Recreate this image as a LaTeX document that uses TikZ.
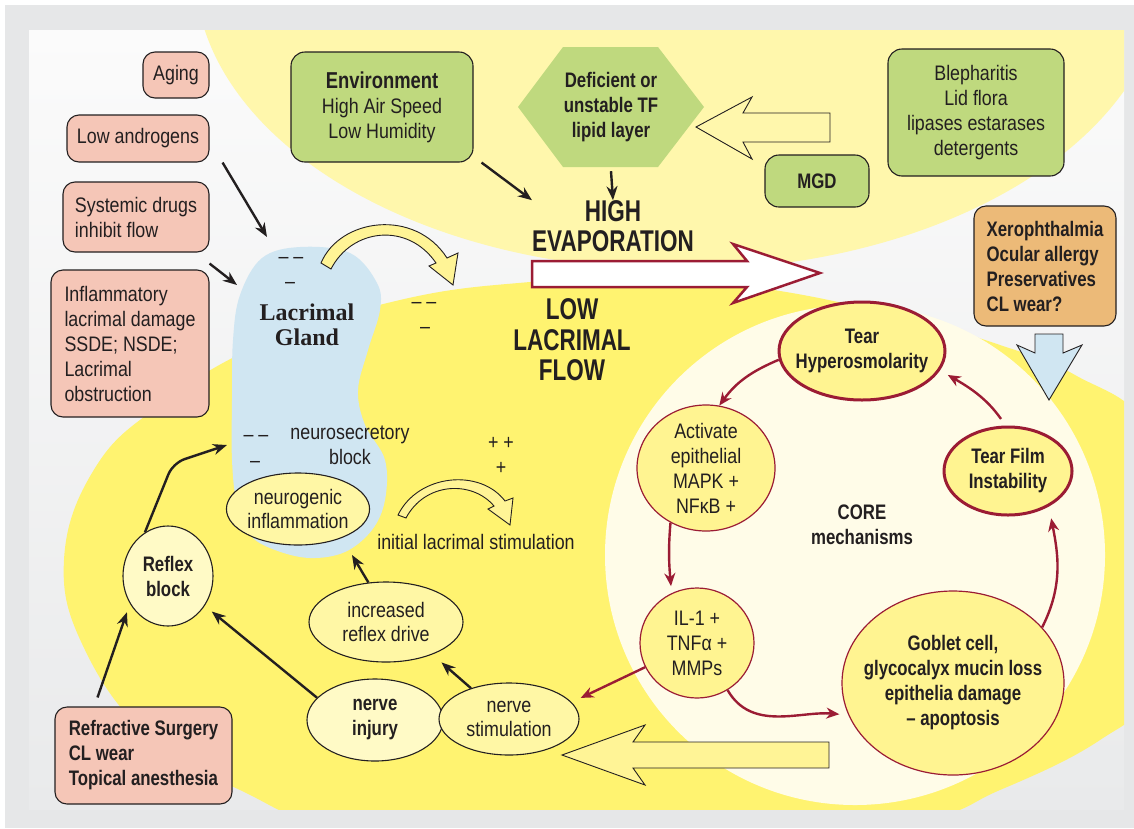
\documentclass[tikz,border=0pt]{standalone}
\usepackage{fontspec}
\setmainfont{Liberation Sans}[FakeStretch=0.85, BoldFeatures={FakeStretch=0.8}]
\newfontfamily\headfont{Liberation Sans}[FakeStretch=0.75]
\newfontfamily\glandfont{Liberation Serif}
\usepackage{tikz}
\usetikzlibrary{arrows.meta}
\usetikzlibrary{shapes.geometric}
\usetikzlibrary{calc}

\definecolor{TextDark}{RGB}{35,31,32}
\definecolor{FrameGray}{RGB}{230,231,232}
\definecolor{InnerTop}{RGB}{251,251,251}
\definecolor{InnerBottom}{RGB}{233,234,235}
\definecolor{PaleYellow}{RGB}{255,247,172}
\definecolor{BrightYellow}{RGB}{255,243,112}
\definecolor{CreamCore}{RGB}{255,252,232}
\definecolor{GlandBlue}{RGB}{208,230,242}
\definecolor{PinkBox}{RGB}{245,198,183}
\definecolor{GreenBox}{RGB}{191,217,126}
\definecolor{OrangeBox}{RGB}{236,186,120}
\definecolor{BubbleYellow}{RGB}{255,247,165}
\definecolor{BubbleLight}{RGB}{255,250,198}
\definecolor{CoreFill}{RGB}{255,244,145}
\definecolor{CoreRed}{RGB}{155,28,52}
\definecolor{HollowYellow}{RGB}{255,244,150}

\tikzstyle{lbl} = [font=\fontsize{21}{25}\selectfont, text=TextDark, align=center, inner sep=0pt]
\tikzstyle{causebox} = [draw=TextDark, line width=1.1pt, rounded corners=12pt, fill=PinkBox, text=TextDark, font=\fontsize{21}{25}\selectfont]
\tikzstyle{leftbox} = [causebox, align=left, inner xsep=12pt]
\tikzstyle{greenbox} = [draw=TextDark, line width=1.1pt, rounded corners=14pt, fill=GreenBox, text=TextDark, align=center, inner sep=0pt, font=\fontsize{21}{25}\selectfont]
\tikzstyle{bubble} = [ellipse, draw=TextDark, line width=1.1pt, fill=BubbleYellow, text=TextDark, align=center, inner sep=0pt, font=\fontsize{21}{24}\selectfont]
\tikzstyle{corebubble} = [ellipse, draw=CoreRed, line width=1.2pt, fill=CoreFill, text=TextDark, align=center, inner sep=0pt, font=\fontsize{21}{25}\selectfont]
\tikzstyle{hollow} = [draw=TextDark, line width=0.9pt, fill=HollowYellow]
\tikzstyle{arrow} = [line width=2.4pt, TextDark, -{Stealth[length=14pt,width=11pt]}]
\tikzstyle{redarrow} = [line width=2.4pt, CoreRed, -{Stealth[length=13pt,width=11pt]}]

\begin{document}
\begin{tikzpicture}[x=1pt, y=1pt]
\useasboundingbox (0,0) rectangle (1134,-828);
\fill[white] (0,0) rectangle (1134,-828);
\fill[FrameGray] (5,-5) rectangle (1134,-828);
\shade[top color=InnerTop, bottom color=InnerBottom] (29,-30) rectangle (1124,-809);
\begin{scope}
\clip (29,-30) rectangle (1124,-809);
\fill[PaleYellow] (680,30) ellipse [x radius=485, y radius=300];
\fill[BrightYellow] plot[smooth cycle, tension=0.7] coordinates {(64,-560) (95,-468) (160,-405) (260,-345) (400,-300) (530,-282) (650,-278) (780,-291) (913,-320) (1000,-345) (1075,-375) (1150,-430) (1190,-560) (1150,-690) (1100,-740) (1000,-790) (900,-825) (600,-870) (350,-832) (240,-790) (150,-738) (85,-650)};
\fill[CreamCore] (855,-555) circle [radius=250];
\end{scope}

\fill[GlandBlue] plot[smooth cycle, tension=0.6] coordinates {(300,-247) (350,-253) (377,-283) (380,-310) (368,-350) (358,-390) (365,-425) (385,-460) (385,-500) (372,-530) (345,-552) (310,-558) (275,-550) (250,-535) (237,-505) (232,-460) (232,-400) (233,-340) (240,-295) (262,-258)};
\coordinate (glandtop) at (267,-237);
\coordinate (glandleft) at (237,-285);
\coordinate (glandside) at (227,-445);
\coordinate (glandfoot) at (352,-555);

\draw[hollow] (321,-263) .. controls (340,-218) and (415,-208) .. (447,-258) -- (458,-253) -- (453,-285) -- (429,-266) -- (436,-263) .. controls (408,-222) and (352,-228) .. (331,-269) -- cycle;
\draw[hollow] (398,-515) .. controls (418,-474) and (480,-468) .. (505,-501) -- (513,-498) -- (510,-525) -- (488,-509) -- (494,-506) .. controls (472,-480) and (425,-482) .. (406,-518) -- cycle;
\draw[hollow, fill=PaleYellow] (696,-127) -- (752,-97) -- (743,-113) -- (830,-113) -- (830,-142) -- (743,-142) -- (752,-159) -- cycle;
\draw[hollow] (562,-755) -- (645,-725) -- (633,-742) -- (829,-742) -- (829,-768) -- (633,-768) -- (645,-785) -- cycle;
\draw[hollow, fill=GlandBlue] (1035,-334) -- (1063,-334) -- (1063,-353) -- (1082,-345) -- (1049,-400) -- (1017,-345) -- (1035,-353) -- cycle;
\draw[CoreRed, line width=2.5pt, fill=white] (532,-261) -- (747,-261) -- (733,-244) -- (820,-273) -- (733,-303) -- (747,-287) -- (532,-287) -- cycle;

\node[causebox, minimum width=66pt, minimum height=46pt, inner sep=0pt] (aging) at (176,-75) {Aging};
\node[causebox, minimum width=142pt, minimum height=47pt, inner sep=0pt] (andro) at (138,-138.5) {Low androgens};
\node[leftbox, minimum width=146pt, minimum height=70pt] (drugs) at (136,-217) {Systemic drugs\\inhibit flow};
\node[leftbox, minimum width=158pt, minimum height=147pt] (inflam) at (130,-343.5) {Inflammatory\\lacrimal damage\\SSDE; NSDE;\\Lacrimal\\obstruction};
\node[leftbox, minimum width=177pt, minimum height=97pt, font=\fontsize{21}{25}\selectfont\bfseries] (refract) at (143.5,-755.5) {Refractive Surgery\\CL wear\\Topical anesthesia};

\node[greenbox, minimum width=182pt, minimum height=110pt] (env) at (382,-107) {{\fontsize{23}{25}\selectfont\bfseries Environment}\\High Air Speed\\Low Humidity};
\node[greenbox, minimum width=176pt, minimum height=127pt] (bleph) at (976,-112.5) {Blepharitis\\Lid flora\\lipases estarases\\detergents};
\node[greenbox, minimum width=104pt, minimum height=52pt, font=\fontsize{21}{25}\selectfont\bfseries] (mgd) at (817,-181) {MGD};
\node[leftbox, fill=OrangeBox, minimum width=142pt, minimum height=120pt, font=\fontsize{21}{25}\selectfont\bfseries] (allergy) at (1045,-266) {Xerophthalmia\\Ocular allergy\\Preservatives\\CL wear?};

\fill[GreenBox] (518,-107) -- (563,-47) -- (658,-47) -- (704,-107) -- (658,-167) -- (563,-167) -- cycle;
\node[lbl, font=\fontsize{21}{25}\selectfont\bfseries, minimum width=186pt, minimum height=120pt] (lipid) at (611,-107) {Deficient or\\unstable TF\\lipid layer};

\node[lbl, font=\headfont\bfseries\fontsize{30}{30}\selectfont] (evap) at (613,-226) {HIGH\\EVAPORATION};
\node[lbl, font=\headfont\bfseries\fontsize{30}{30.5}\selectfont] (lowflow) at (572,-340) {LOW\\LACRIMAL\\FLOW};
\node[lbl, font=\glandfont\bfseries\fontsize{24}{25}\selectfont] (glandlbl) at (307,-325) {Lacrimal\\Gland};
\node[lbl] (neuroblock) at (350,-445) {neurosecretory\\block};
\node[lbl] (initstim) at (476,-542) {initial lacrimal stimulation};
\node[lbl, font=\fontsize{21}{25}\selectfont\bfseries] (core) at (862,-525) {CORE\\mechanisms};

\foreach \px/\py/\sign [count=\i] in {291/260/{– –}, 290/285/–, 424/305/{– –}, 425/330/–, 256/438/{– –}, 255/464/–, 501/443/{+ +}, 501/468/+}
  \node[lbl] (sign\i) at (\px,-\py) {\sign};

\node[bubble, minimum width=140pt, minimum height=72pt] (neuroinfl) at (298,-509) {neurogenic\\inflammation};
\node[bubble, fill=BubbleLight, minimum width=90pt, minimum height=100pt, font=\fontsize{21}{25}\selectfont\bfseries] (reflex) at (168,-576) {Reflex\\block};
\node[bubble, minimum width=154pt, minimum height=80pt] (drive) at (386,-622) {increased\\reflex drive};
\node[bubble, fill=BubbleLight, minimum width=136pt, minimum height=82pt, font=\fontsize{21}{25}\selectfont\bfseries] (injury) at (375,-720) {nerve\\injury};
\node[bubble, minimum width=140pt, minimum height=72pt] (stim) at (509,-719) {nerve\\stimulation};

\node[corebubble, line width=3pt, minimum width=166pt, minimum height=98pt, inner xsep=-15pt, font=\fontsize{21}{25}\selectfont\bfseries] (hyper) at (862,-351) {Tear\\Hyperosmolarity};
\node[corebubble, line width=3pt, minimum width=128pt, minimum height=88pt, font=\fontsize{21}{25}\selectfont\bfseries] (tearfilm) at (1008,-471) {Tear Film\\Instability};
\node[corebubble, minimum width=138pt, minimum height=126pt, inner ysep=-10pt] (activate) at (706,-468) {Activate\\epithelial\\MAPK +\\NFκB +};
\node[corebubble, minimum width=114pt, minimum height=110pt] (il1) at (697,-643) {IL-1 +\\TNFα +\\MMPs};
\node[corebubble, minimum width=222pt, minimum height=184pt, inner xsep=-25pt, font=\fontsize{21}{25}\selectfont\bfseries] (goblet) at (953,-683) {Goblet cell,\\glycocalyx mucin loss\\epithelia damage\\– apoptosis};

\draw[arrow] ([xshift=13pt]andro.south east) -- (glandtop);
\draw[arrow] ([yshift=-11pt]drugs.south east) -- (glandleft);
\draw[arrow] ([xshift=8pt]env.south east) -- (evap.north west);
\draw[arrow] ([yshift=-4pt]lipid.south) -- (evap.north);
\draw[arrow, rounded corners=12pt] (reflex.118) -- (173,-463) -- (glandside);
\draw[arrow, shorten >=9pt] ([shift={(-46,9)}]refract.north) -- (reflex.216);
\draw[arrow, shorten >=9pt] (injury.159) -- (reflex.-39);
\draw[arrow] (drive.114) -- (glandfoot);
\draw[arrow, shorten >=12pt] (stim.141) -- (drive.-35);

\draw[redarrow] (hyper.186) to[out=203, in=54] (activate.78);
\draw[redarrow, shorten >=7pt] (activate.237) to[out=265, in=95] (il1.117);
\draw[redarrow, shorten >=9pt] (il1.303) to[out=300, in=175] (goblet.197);
\draw[redarrow, shorten >=12pt] (goblet.32) to[out=63, in=281] (tearfilm.-41);
\draw[redarrow, shorten <=8pt, shorten >=9pt] (tearfilm.93) to[out=125, in=330] (hyper.-14);
\draw[redarrow, shorten >=10pt] (il1.205) -- (stim.15);
\end{tikzpicture}
\end{document}
